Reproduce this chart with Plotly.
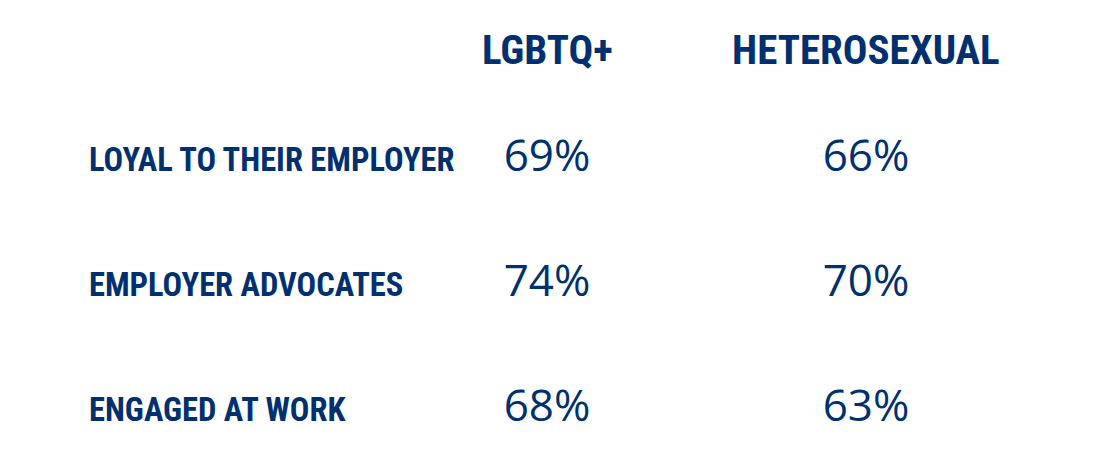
import plotly.graph_objects as go

columns = ["LGBTQ+", "HETEROSEXUAL"]
rows = ["LOYAL TO THEIR EMPLOYER", "EMPLOYER ADVOCATES", "ENGAGED AT WORK"]
lgbtq_values = [69, 74, 68]
hetero_values = [66, 70, 63]

NAVY = "#00306F"
HEAD_FONT = "Roboto Condensed, Open Sans Condensed, sans-serif"
NUM_FONT = "Open Sans, Noto Sans, sans-serif"

W, H = 1105, 453
OFF = 8  # page body margin

fig = go.Figure()
for col, vals in zip(columns, [lgbtq_values, hetero_values]):
    fig.add_trace(go.Scatter(
        x=[col] * len(rows), y=rows, mode="text",
        text=[f"{v}%" for v in vals],
        textposition="middle center",
        textfont=dict(family=NUM_FONT, size=44, color=NAVY, weight=400),
        hoverinfo="skip", showlegend=False,
    ))

annotations = []
for col in columns:
    annotations.append(dict(
        x=col, xref="x", y=1 - (50 - OFF) / H, yref="paper", yanchor="middle",
        text=col, showarrow=False,
        font=dict(family=HEAD_FONT, size=41, color=NAVY, weight="bold"),
    ))
for r in rows:
    annotations.append(dict(
        x=(87 - OFF) / W, xref="paper", xanchor="left", y=r, yref="y",
        text=r, showarrow=False,
        font=dict(family=HEAD_FONT, size=32.5, color=NAVY, weight="bold"),
    ))

c1, c2 = 547 - OFF, 866 - OFF
half = (c2 - c1) / 2
r0, step = 160 - OFF, 125
fig.update_layout(
    width=W, height=H,
    margin=dict(l=0, r=0, t=0, b=0),
    paper_bgcolor="white", plot_bgcolor="white",
    xaxis=dict(type="category", categoryarray=columns, range=[-0.5, 1.5],
               domain=[(c1 - half) / W, (c2 + half) / W], visible=False),
    yaxis=dict(type="category", categoryarray=rows,
               range=[(H - r0) / step, -r0 / step], visible=False),
    annotations=annotations,
)
fig.write_html("out.html")
